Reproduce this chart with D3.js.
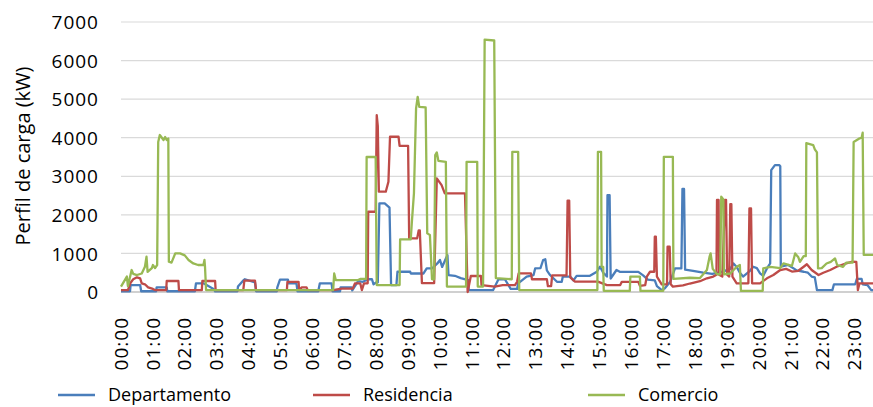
<!DOCTYPE html>
<html><head><meta charset="utf-8">
<script src="https://cdn.jsdelivr.net/npm/d3@7"></script>
<style>html,body{margin:0;padding:0;background:#fff;overflow:hidden}</style>
</head><body>
<svg id="chart" width="873" height="407"></svg>
<script>
// time in minutes after midnight, value in kW
const departamento = [[0,20],[17,20],[18,180],[36,180],[38,20],[66,20],[67,120],[86,120],[87,20],[139,20],[141,225],[155,225],[161,180],[174,80],[177,20],[219,20],[220,140],[230,300],[233,330],[252,250],[254,20],[293,20],[294,120],[299,320],[314,320],[315,225],[330,225],[332,20],[371,20],[374,225],[396,225],[398,20],[412,20],[413,120],[434,120],[435,40],[446,280],[455,265],[465,330],[472,330],[475,200],[480,250],[483,250],[486,2300],[496,2300],[505,2190],[508,180],[518,180],[520,525],[544,525],[545,480],[569,480],[575,610],[585,610],[595,740],[600,830],[604,650],[614,960],[616,440],[628,420],[639,360],[653,310],[654,50],[700,50],[710,330],[722,330],[733,80],[745,80],[747,225],[763,400],[776,440],[779,610],[789,620],[794,830],[798,850],[801,560],[807,440],[820,265],[829,265],[831,400],[845,400],[851,300],[857,420],[882,420],[895,525],[901,655],[907,500],[914,400],[915,2510],[919,2510],[921,350],[932,570],[939,520],[973,520],[982,430],[991,320],[1004,300],[1008,150],[1017,50],[1023,100],[1033,265],[1042,610],[1054,610],[1056,2670],[1059,2670],[1061,580],[1076,550],[1095,500],[1112,470],[1132,530],[1146,600],[1152,740],[1158,650],[1164,500],[1170,400],[1183,550],[1189,655],[1196,620],[1202,485],[1208,420],[1215,610],[1221,740],[1223,3160],[1230,3290],[1238,3290],[1240,3260],[1241,655],[1255,700],[1271,560],[1284,525],[1292,500],[1299,400],[1305,380],[1309,50],[1338,50],[1341,200],[1381,200],[1384,340],[1393,340],[1395,200],[1404,180],[1411,50],[1439,40]];

const residencia = [[0,50],[13,50],[18,240],[23,330],[30,380],[36,355],[39,225],[45,200],[51,120],[60,80],[64,50],[85,50],[86,285],[108,285],[109,50],[152,50],[153,285],[177,285],[178,50],[230,50],[232,295],[252,295],[254,50],[312,50],[313,265],[334,265],[335,50],[340,120],[349,120],[351,50],[399,50],[415,90],[436,90],[440,225],[450,225],[453,50],[457,225],[464,225],[465,2080],[479,2080],[481,4585],[483,4300],[485,2600],[498,2600],[503,2860],[506,4025],[522,4025],[524,3790],[540,3790],[542,1390],[557,1390],[560,1600],[562,1600],[566,230],[589,230],[594,2945],[603,2770],[609,2555],[647,2555],[652,0],[658,415],[677,415],[678,180],[703,140],[718,180],[741,180],[745,265],[748,485],[771,485],[773,330],[801,330],[803,150],[809,150],[811,430],[838,430],[840,2370],[843,2370],[845,380],[854,270],[897,270],[914,180],[939,180],[942,265],[973,265],[976,160],[986,180],[989,400],[995,525],[1003,525],[1004,1435],[1006,1435],[1008,400],[1017,200],[1027,200],[1028,1175],[1032,1175],[1034,200],[1038,140],[1057,170],[1070,220],[1089,280],[1102,355],[1114,400],[1120,450],[1121,2385],[1124,2385],[1125,450],[1131,400],[1136,2390],[1138,2390],[1140,450],[1144,400],[1146,2280],[1148,2280],[1150,400],[1158,225],[1180,225],[1182,2165],[1185,2165],[1187,225],[1202,225],[1215,355],[1227,440],[1240,570],[1251,600],[1262,530],[1274,550],[1284,655],[1290,720],[1299,570],[1312,440],[1321,500],[1334,570],[1346,655],[1364,740],[1376,785],[1383,780],[1386,50],[1389,225],[1439,225]];

const comercio = [[0,140],[11,400],[13,150],[20,570],[23,470],[30,440],[39,480],[45,655],[48,915],[50,520],[58,620],[60,700],[64,620],[68,700],[70,3890],[73,4070],[80,3940],[83,4020],[86,3940],[89,3980],[90,785],[95,760],[102,1000],[111,1000],[120,950],[127,830],[136,740],[145,700],[155,700],[157,830],[158,655],[160,50],[399,50],[401,480],[404,310],[446,310],[450,340],[461,340],[462,3500],[479,3500],[481,180],[524,180],[525,1365],[545,1365],[547,1800],[551,2560],[555,4760],[558,5060],[561,4800],[573,4785],[576,1520],[581,1480],[585,330],[589,330],[591,3550],[594,3620],[597,3400],[611,3375],[613,140],[649,140],[650,3375],[670,3375],[671,140],[681,140],[684,6545],[702,6520],[705,360],[735,330],[736,3635],[747,3635],[749,50],[896,50],[897,3635],[903,3635],[904,650],[907,650],[908,30],[957,30],[958,400],[976,400],[977,30],[1020,30],[1021,3505],[1038,3505],[1039,340],[1070,370],[1089,360],[1102,570],[1107,915],[1109,1000],[1113,600],[1121,460],[1127,460],[1129,2470],[1133,2400],[1134,460],[1146,480],[1158,655],[1164,700],[1166,30],[1207,30],[1208,610],[1221,650],[1240,620],[1246,740],[1262,680],[1268,1000],[1274,900],[1277,780],[1284,930],[1288,930],[1289,3860],[1302,3810],[1305,3700],[1309,3620],[1311,610],[1318,620],[1327,740],[1335,780],[1343,870],[1347,700],[1358,650],[1364,760],[1376,760],[1378,3890],[1388,3975],[1393,4000],[1395,4130],[1397,960],[1439,960]];

const seriesNames = ["Departamento", "Residencia", "Comercio"];
const seriesColors = ["#4A7EBB", "#BE4B48", "#98B954"];
const yTicks = [0, 1000, 2000, 3000, 4000, 5000, 6000, 7000];
const xTickLabels = ["00:00","01:00","02:00","03:00","04:00","05:00","06:00","07:00","08:00","09:00","10:00","11:00","12:00","13:00","14:00","15:00","16:00","17:00","18:00","19:00","20:00","21:00","22:00","23:00"];
const yTitle = "Perfil de carga (kW)";

const svg = d3.select("#chart");
const x = d3.scaleLinear().domain([0, 1440]).range([121, 886.6]);
const y = d3.scaleLinear().domain([0, 7000]).range([292, 22]);
const font = "'Open Sans', 'Noto Sans', sans-serif";

// gridlines
svg.append("g").selectAll("line").data(yTicks).join("line")
  .attr("x1", 121).attr("x2", 873)
  .attr("y1", d => y(d)).attr("y2", d => y(d))
  .attr("stroke", d => d === 0 ? "#D0D0D0" : "#DADADA")
  .attr("stroke-width", d => d === 0 ? 2 : 1.2);

// y axis labels
const yAxis = d3.axisLeft(y).tickValues(yTicks).tickSize(0).tickPadding(0).tickFormat(d3.format("d"));
const ya = svg.append("g").attr("transform", "translate(99,0)").call(yAxis);
ya.select(".domain").remove();
ya.selectAll("text").attr("font-family", font).attr("font-size", 19).attr("fill", "#000")
  .attr("letter-spacing", 1).attr("dy", "0.35em").attr("x", 0);

// y title
svg.append("text").attr("transform", "translate(23,156) rotate(-90)")
  .attr("text-anchor", "middle").attr("dy", "0.35em")
  .attr("font-family", font).attr("font-size", 20).attr("fill", "#000").text(yTitle);

// x labels
svg.append("g").selectAll("text").data(xTickLabels).join("text")
  .attr("transform", (d, i) => `translate(${x(i * 60)},317) rotate(-90)`)
  .attr("text-anchor", "end").attr("dy", "0.35em")
  .attr("font-family", font).attr("font-size", 19).attr("letter-spacing", 1).attr("fill", "#000")
  .text(d => d);

// lines
const clip = svg.append("clipPath").attr("id", "clip").append("rect")
  .attr("x", 0).attr("y", 0).attr("width", 873).attr("height", 300);
const line = d3.line().x(d => x(d[0])).y(d => y(d[1]));
const data = [departamento, residencia, comercio];
svg.append("g").attr("clip-path", "url(#clip)").selectAll("path").data(data).join("path")
  .attr("d", line).attr("fill", "none")
  .attr("stroke", (d, i) => seriesColors[i]).attr("stroke-width", 2.3)
  .attr("stroke-linejoin", "round");

// legend
const legX = [58, 313, 588];
const lg = svg.append("g").selectAll("g").data(seriesNames).join("g")
  .attr("transform", (d, i) => `translate(${legX[i]},395)`);
lg.append("line").attr("x1", 0).attr("x2", 37).attr("y1", 0).attr("y2", 0)
  .attr("stroke", (d, i) => seriesColors[i]).attr("stroke-width", 2.5);
lg.append("text").attr("x", 50).attr("dy", "0.35em")
  .attr("font-family", font).attr("font-size", 18).attr("fill", "#000").text(d => d);
</script>
</body></html>
